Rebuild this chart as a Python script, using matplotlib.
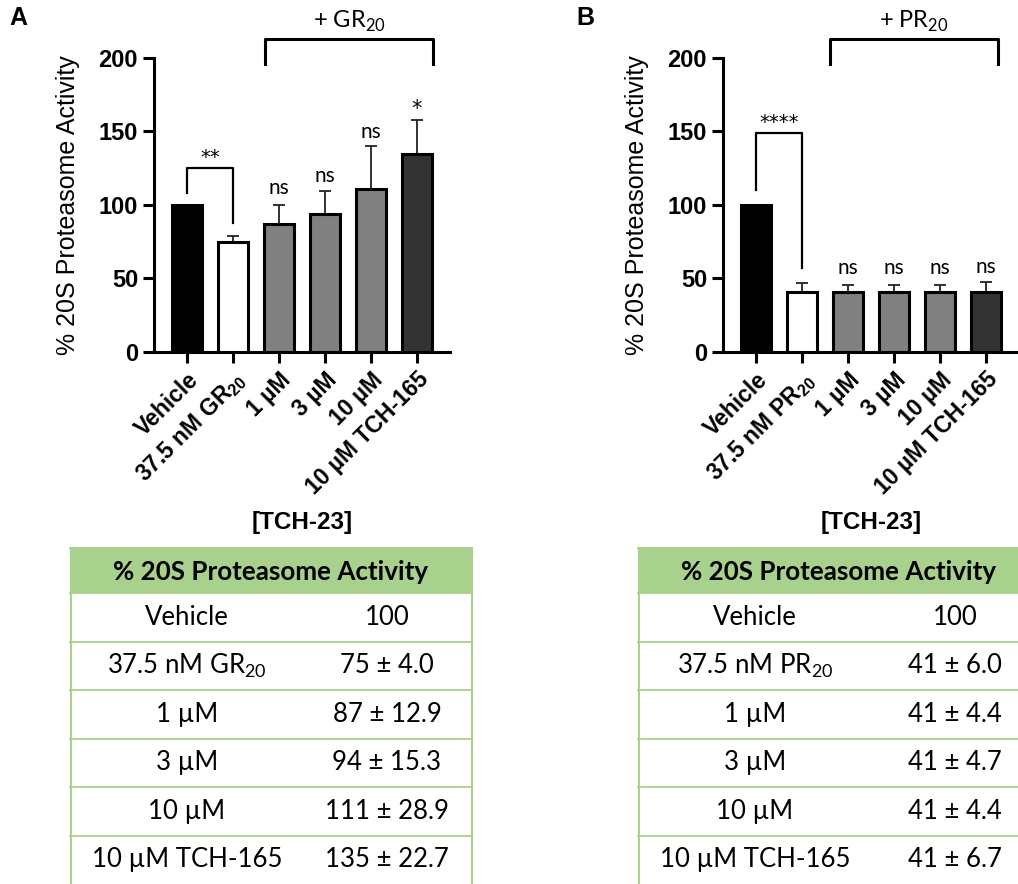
import numpy as np
import matplotlib.pyplot as plt

plt.rcParams['font.family'] = ['Liberation Sans', 'DejaVu Sans']
plt.rcParams['mathtext.fontset'] = 'custom'
plt.rcParams['mathtext.rm'] = 'Lato'

# data
labels_a = ['Vehicle', '37.5 nM GR$\\mathregular{_{20}}$', '1 µM', '3 µM', '10 µM', '10 µM TCH-165']
labels_b = ['Vehicle', '37.5 nM PR$\\mathregular{_{20}}$', '1 µM', '3 µM', '10 µM', '10 µM TCH-165']
vals_a = [100, 75, 87, 94, 111, 135]
errs_a = [0, 4.0, 12.9, 15.3, 28.9, 22.7]
vals_b = [100, 41, 41, 41, 41, 41]
errs_b = [0, 6.0, 4.4, 4.7, 4.4, 6.7]
sig_a = ['', '', 'ns', 'ns', 'ns', '*']
sig_b = ['', '', 'ns', 'ns', 'ns', 'ns']
tbl_rows_a = ['Vehicle', '37.5 nM GR$\\mathregular{_{20}}$', '1 µM', '3 µM', '10 µM', '10 µM TCH-165']
tbl_vals_a = ['100', '75 ± 4.0', '87 ± 12.9', '94 ± 15.3', '111 ± 28.9', '135 ± 22.7']
tbl_rows_b = ['Vehicle', '37.5 nM PR$\\mathregular{_{20}}$', '1 µM', '3 µM', '10 µM', '10 µM TCH-165']
tbl_vals_b = ['100', '41 ± 6.0', '41 ± 4.4', '41 ± 4.7', '41 ± 4.4', '41 ± 6.7']

colors = ['black', 'white', '#808080', '#808080', '#808080', '#333333']
green = '#a9d18e'

W, H = 1018, 884
fig = plt.figure(figsize=(W / 100, H / 100), dpi=100)


def px_axes(l, t, r, b):
    return fig.add_axes([l / W, 1 - b / H, (r - l) / W, (b - t) / H])


def bar_panel(ax, labels, vals, errs, sig, sig_y, pair_txt, pair_top, pair_legs, grp, grp_txt):
    x = np.arange(len(vals))
    ax.bar(x, vals, width=0.65, color=colors, edgecolor='black', linewidth=2.2, zorder=3)
    ax.errorbar(x, vals, yerr=[np.zeros(len(errs)), errs], fmt='none', ecolor='#222222',
                elinewidth=1.3, capsize=4.3, capthick=1.3, zorder=2)
    ax.set_xlim(-0.72, 5.72)
    ax.set_ylim(0, 200)
    ax.set_yticks([0, 50, 100, 150, 200])
    for s in ['top', 'right']:
        ax.spines[s].set_visible(False)
    for s in ['left', 'bottom']:
        ax.spines[s].set_linewidth(2.2)
    ax.tick_params(width=2.2, length=8, labelsize=17)
    for t in ax.get_yticklabels():
        t.set_fontweight('bold')
    ax.set_xticks(x)
    ax.set_xticklabels(labels, rotation=45, ha='right', rotation_mode='anchor',
                       fontsize=16.5, fontweight='bold')
    ax.set_ylabel('% 20S Proteasome Activity', fontsize=18)
    ax.yaxis.set_label_coords(-0.25, 0.5)

    for i in range(len(vals)):
        if sig[i] == '*':
            ax.text(i, sig_y[i], sig[i], ha='center', va='center', fontsize=15,
                    family='DejaVu Sans')
        elif sig[i]:
            ax.text(i, sig_y[i], sig[i], ha='center', va='center', fontsize=15,
                    family=['Lato', 'DejaVu Sans'])

    # pair bracket
    ax.plot([0, 0, 1, 1], [pair_legs[0], pair_top, pair_top, pair_legs[1]],
            color='black', lw=1.6, clip_on=False)
    ax.text(0.5, pair_top + 7, pair_txt, ha='center', va='center', fontsize=14,
            family='DejaVu Sans')

    # group bracket
    ax.plot([grp[0], grp[0], grp[1], grp[1]], [196, 213, 213, 196],
            color='black', lw=2.2, clip_on=False)
    ax.text((grp[0] + grp[1]) / 2, 225, grp_txt, ha='center', va='center', fontsize=17,
            family=['Lato', 'DejaVu Sans'])


ax_a = px_axes(154, 58, 450, 352)
bar_panel(ax_a, labels_a, vals_a, errs_a, sig_a, [0, 0, 111.5, 120, 150, 165],
          '**', 125, (108, 88), (1.7, 5.35), '+ GR$_{20}$')
ax_b = px_axes(723, 58, 1019, 352)
bar_panel(ax_b, labels_b, vals_b, errs_b, sig_b, [0, 0, 57, 57, 57, 58],
          '****', 149, (110, 57), (1.6, 5.26), '+ PR$_{20}$')

fig.text(18 / W, 1 - 18 / H, 'A', fontsize=18, fontweight='bold', ha='center', va='center')
fig.text(585 / W, 1 - 18 / H, 'B', fontsize=18, fontweight='bold', ha='center', va='center')
fig.text(302 / W, 1 - 522 / H, '[TCH-23]', fontsize=17.5, fontweight='bold', ha='center', va='center')
fig.text(871 / W, 1 - 522 / H, '[TCH-23]', fontsize=17.5, fontweight='bold', ha='center', va='center')


def draw_table(ax, names, values):
    tw, th = 402, 336
    ax.set_xlim(0, tw)
    ax.set_ylim(th, 0)
    ax.axis('off')
    hh = 45
    rh = (th - hh) / len(names)
    ax.add_patch(plt.Rectangle((0, 0), tw, hh, facecolor=green, edgecolor='none', clip_on=False))
    ax.text(tw / 2, hh / 2 + 1, '% 20S Proteasome Activity', ha='center', va='center',
            fontsize=18.7, fontweight='bold', family=['Lato', 'DejaVu Sans'])
    ys = [0, hh] + [hh + rh * (i + 1) for i in range(len(names))]
    for y in ys[:-1]:
        ax.plot([0, tw], [y, y], color=green, lw=1.3, clip_on=False)
    ax.plot([0.5, 0.5], [0, th + 10], color=green, lw=1.5, clip_on=False)
    ax.plot([tw - 0.5, tw - 0.5], [0, th + 10], color=green, lw=1.5, clip_on=False)
    for i in range(len(names)):
        yc = hh + rh * (i + 0.5)
        ax.text(117, yc, names[i], ha='center', va='center', fontsize=18.5,
                family=['Lato', 'DejaVu Sans'])
        ax.text(317, yc, values[i], ha='center', va='center', fontsize=18.5,
                family=['Lato', 'DejaVu Sans'])


draw_table(px_axes(70, 548, 472, 884), tbl_rows_a, tbl_vals_a)
draw_table(px_axes(638, 548, 1040, 884), tbl_rows_b, tbl_vals_b)

fig.savefig('out.png', dpi=100)
